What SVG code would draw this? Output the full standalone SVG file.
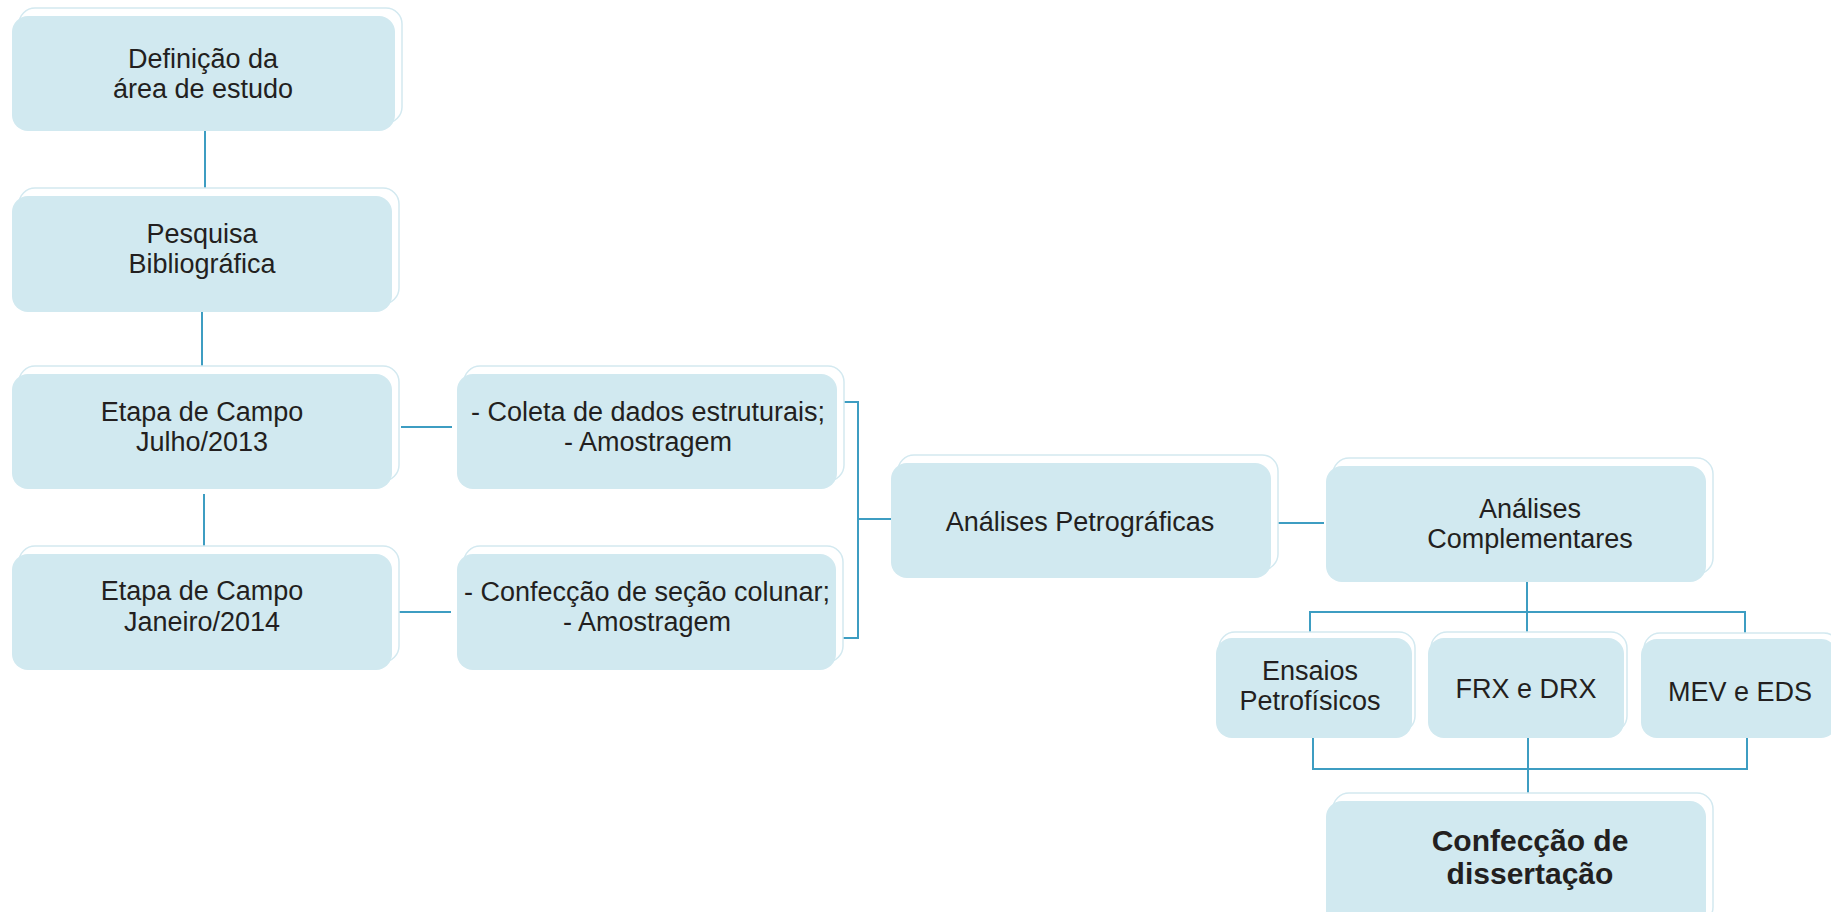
<svg xmlns="http://www.w3.org/2000/svg" width="1831" height="912" viewBox="0 0 1831 912">
<style>
.back{fill:#ffffff;stroke:#d3e9f0;stroke-width:1.5}
.front{fill:#d1e9f0;stroke:none}
.t{font-family:"Liberation Sans",Arial,sans-serif;font-size:27px;fill:#231f20;text-anchor:middle}
.tb{font-family:"Liberation Sans",Arial,sans-serif;font-size:30px;font-weight:bold;fill:#231f20;text-anchor:middle}
.c{fill:none;stroke:#3d9dc2;stroke-width:2}
</style>
<rect x="0" y="0" width="1831" height="912" fill="#ffffff"/>
<g id="connectors">
<path class="c" d="M205 131V189"/>
<path class="c" d="M202 312V367"/>
<path class="c" d="M204 494V547"/>
<path class="c" d="M401 427H452"/>
<path class="c" d="M398 612H451"/>
<path class="c" d="M839 402H858V638H837"/>
<path class="c" d="M858 519H891"/>
<path class="c" d="M1273 523H1324"/>
<path class="c" d="M1527 582V638"/>
<path class="c" d="M1310 638V612H1745V640"/>
<path class="c" d="M1313 738V769H1747V736"/>
<path class="c" d="M1528 735V801"/>
</g>
<g id="n1"><rect class="back" x="19" y="8" width="383" height="115" rx="16"/><rect class="front" x="12" y="16" width="383" height="115" rx="16"/>
<text class="t" x="203" y="68">Definição da</text><text class="t" x="203" y="98">área de estudo</text></g>
<g id="n2"><rect class="back" x="19" y="188" width="380" height="116" rx="16"/><rect class="front" x="12" y="196" width="380" height="116" rx="16"/>
<text class="t" x="202" y="243">Pesquisa</text><text class="t" x="202" y="273">Bibliográfica</text></g>
<g id="n3"><rect class="back" x="19" y="366" width="380" height="115" rx="16"/><rect class="front" x="12" y="374" width="380" height="115" rx="16"/>
<text class="t" x="202" y="421">Etapa de Campo</text><text class="t" x="202" y="451">Julho/2013</text></g>
<g id="n4"><rect class="back" x="19" y="546" width="380" height="116" rx="16"/><rect class="front" x="12" y="554" width="380" height="116" rx="16"/>
<text class="t" x="202" y="600">Etapa de Campo</text><text class="t" x="202" y="631">Janeiro/2014</text></g>
<g id="n5"><rect class="back" x="464" y="366" width="380" height="115" rx="16"/><rect class="front" x="457" y="374" width="380" height="115" rx="16"/>
<text class="t" x="648" y="421">- Coleta de dados estruturais;</text><text class="t" x="648" y="451">- Amostragem</text></g>
<g id="n6"><rect class="back" x="464" y="546" width="379" height="116" rx="16"/><rect class="front" x="457" y="554" width="379" height="116" rx="16"/>
<text class="t" x="647" y="601">- Confecção de seção colunar;</text><text class="t" x="647" y="631">- Amostragem</text></g>
<g id="n7"><rect class="back" x="898" y="455" width="380" height="115" rx="16"/><rect class="front" x="891" y="463" width="380" height="115" rx="16"/>
<text class="t" x="1080" y="531">Análises Petrográficas</text></g>
<g id="n8"><rect class="back" x="1333" y="458" width="380" height="116" rx="16"/><rect class="front" x="1326" y="466" width="380" height="116" rx="16"/>
<text class="t" x="1530" y="518">Análises</text><text class="t" x="1530" y="548">Complementares</text></g>
<g id="n9"><rect class="back" x="1219" y="632" width="196" height="100" rx="16"/><rect class="front" x="1216" y="638" width="196" height="100" rx="16"/>
<text class="t" x="1310" y="680">Ensaios</text><text class="t" x="1310" y="710">Petrofísicos</text></g>
<g id="n10"><rect class="back" x="1431" y="632" width="196" height="100" rx="16"/><rect class="front" x="1428" y="638" width="196" height="100" rx="16"/>
<text class="t" x="1526" y="698">FRX e DRX</text></g>
<g id="n11"><rect class="back" x="1644" y="633" width="196" height="99" rx="16"/><rect class="front" x="1641" y="639" width="196" height="99" rx="16"/>
<text class="t" x="1740" y="701">MEV e EDS</text></g>
<g id="n12"><rect class="back" x="1333" y="793" width="380" height="130" rx="16"/><rect class="front" x="1326" y="801" width="380" height="130" rx="16"/>
<text class="tb" x="1530" y="851">Confecção de</text><text class="tb" x="1530" y="884">dissertação</text></g>
</svg>
